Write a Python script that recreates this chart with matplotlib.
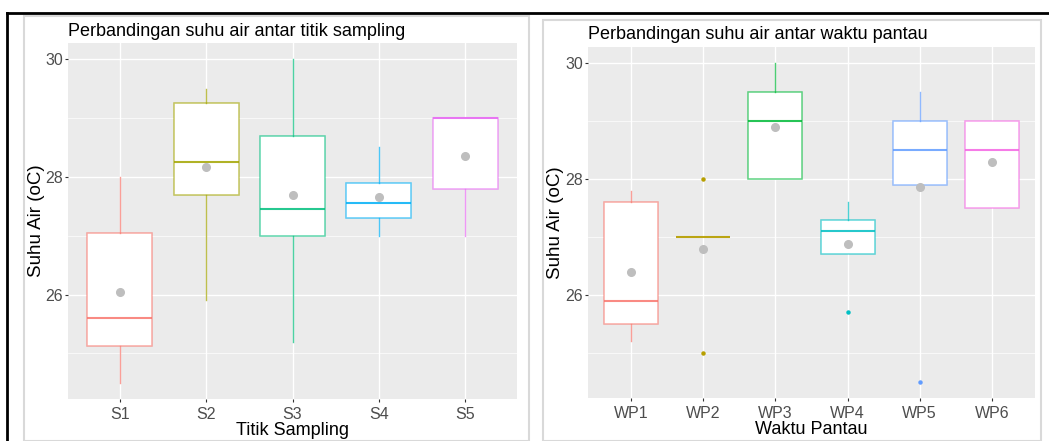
import matplotlib.pyplot as plt
from matplotlib.patches import Rectangle
from matplotlib.lines import Line2D

plt.rcParams['font.family'] = ['Liberation Sans', 'DejaVu Sans']

# --- data (suhu air, oC) ---
titik = ["S1", "S2", "S3", "S4", "S5"]
titik_whislo = [24.5, 25.9, 25.2, 27.0, 27.0]
titik_q1 = [25.12, 27.7, 27.0, 27.3, 27.8]
titik_med = [25.6, 28.25, 27.45, 27.55, 29.0]
titik_q3 = [27.05, 29.25, 28.7, 27.9, 29.0]
titik_whishi = [28.0, 29.5, 30.0, 28.5, 29.0]
titik_mean = [26.05, 28.17, 27.7, 27.65, 28.36]
titik_fliers = [[], [], [], [], []]

waktu = ["WP1", "WP2", "WP3", "WP4", "WP5", "WP6"]
waktu_whislo = [25.2, 27.0, 28.0, 26.7, 27.9, 27.5]
waktu_q1 = [25.5, 27.0, 28.0, 26.7, 27.9, 27.5]
waktu_med = [25.9, 27.0, 29.0, 27.1, 28.5, 28.5]
waktu_q3 = [27.6, 27.0, 29.5, 27.3, 29.0, 29.0]
waktu_whishi = [27.8, 27.0, 30.0, 27.6, 29.5, 29.0]
waktu_mean = [26.4, 26.8, 28.9, 26.88, 27.87, 28.3]
waktu_fliers = [[], [28.0, 25.0], [], [25.7], [24.5], []]

pal5 = ["#F8766D", "#A3A500", "#00BF7D", "#00B0F6", "#E76BF3"]
pal6 = ["#F8766D", "#B79F00", "#00BA38", "#00BFC4", "#619CFF", "#F564E3"]

W, H = 1049, 441
fig = plt.figure(figsize=(W / 100, H / 100), dpi=100)


def px_rect(x0, y0, x1, y1):
    return [x0 / W, 1 - y1 / H, (x1 - x0) / W, (y1 - y0) / H]


def panel(box, cats, lo, q1, med, q3, hi, mean, fliers, colors, title, xlabel, title_y, ylab_x):
    ax = fig.add_axes(px_rect(*box))
    ax.set_facecolor("#EBEBEB")
    stats = []
    for i in range(len(cats)):
        stats.append(dict(whislo=lo[i], q1=q1[i], med=med[i], q3=q3[i],
                          whishi=hi[i], mean=mean[i], fliers=fliers[i]))
    pos = list(range(1, len(cats) + 1))
    art = ax.bxp(stats, positions=pos, widths=0.75, showcaps=False, showmeans=True,
                 patch_artist=True, zorder=3,
                 meanprops=dict(marker="o", markersize=5.5, markerfacecolor="#BEBEBE",
                                markeredgecolor="#BEBEBE"))
    for i, c in enumerate(colors):
        art["boxes"][i].set(facecolor="white", linewidth=1.1)
        art["boxes"][i].set_edgecolor(c + "A0")
        art["medians"][i].set(color=c, linewidth=1.5, alpha=0.85)
        for w in art["whiskers"][2 * i:2 * i + 2]:
            w.set(color=c, linewidth=1.0, alpha=0.7)
        art["fliers"][i].set(marker="o", markersize=2.2, markerfacecolor=c,
                             markeredgecolor=c)
    ax.set_xlim(0.4, len(cats) + 0.6)
    ax.set_ylim(24.225, 30.275)
    ax.set_yticks([26, 28, 30])
    ax.set_yticks([25, 27, 29], minor=True)
    ax.set_xticks(pos)
    ax.set_xticklabels(cats)
    ax.grid(True, which="major", color="white", linewidth=1.0, zorder=0)
    ax.grid(True, which="minor", axis="y", color="white", linewidth=0.5, zorder=0)
    ax.set_axisbelow(True)
    for s in ax.spines.values():
        s.set_visible(False)
    ax.tick_params(axis="both", which="major", length=2.5, width=0.8, color="#333333",
                   labelcolor="#4D4D4D", labelsize=11.5, pad=1)
    ax.tick_params(axis="x", pad=3)
    ax.tick_params(axis="y", which="minor", length=0)
    ax.set_ylabel("Suhu Air (oC)", fontsize=13.5, color="black")
    ax.yaxis.set_label_coords((ylab_x - box[0]) / (box[2] - box[0]), 0.5)
    ax.set_xlabel(xlabel, fontsize=13, color="black", labelpad=0)
    fig.text(box[0] / W, 1 - title_y / H, title, fontsize=13, ha="left",
             va="baseline", color="black")
    return ax


# panel frames
fig.add_artist(Rectangle((24 / W, 0), (529 - 24) / W, 1 - 16 / H, transform=fig.transFigure,
                         fill=False, edgecolor="#D9D9D9", linewidth=1.5))
fig.add_artist(Rectangle((543 / W, 0), (1041 - 543) / W, 1 - 20 / H,
                         transform=fig.transFigure, fill=False, edgecolor="#D9D9D9",
                         linewidth=1.5))
# black outer lines
fig.add_artist(Line2D([7 / W, 1], [1 - 13 / H, 1 - 13 / H], transform=fig.transFigure,
                      color="black", linewidth=2))
fig.add_artist(Line2D([7 / W, 7 / W], [0, 1 - 13 / H], transform=fig.transFigure,
                      color="black", linewidth=2))

panel((68, 43, 517, 399), titik, titik_whislo, titik_q1, titik_med, titik_q3,
      titik_whishi, titik_mean, titik_fliers, pal5,
      "Perbandingan suhu air antar titik sampling", "Titik Sampling", 36, 45)
panel((588, 47, 1035, 398), waktu, waktu_whislo, waktu_q1, waktu_med, waktu_q3,
      waktu_whishi, waktu_mean, waktu_fliers, pal6,
      "Perbandingan suhu air antar waktu pantau", "Waktu Pantau", 39, 564)

fig.savefig("out.png", dpi=100)
